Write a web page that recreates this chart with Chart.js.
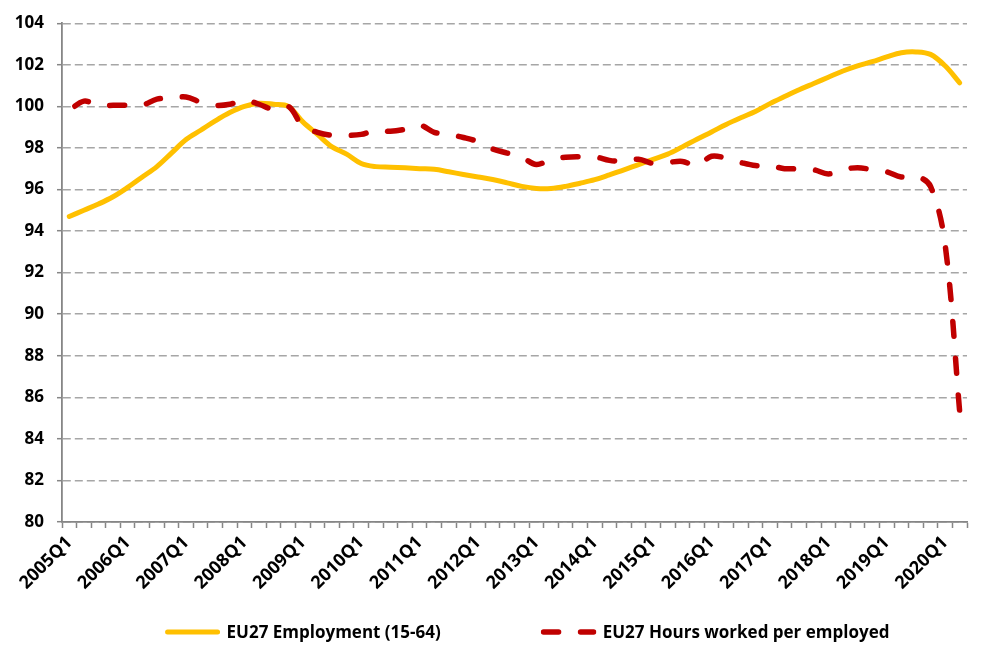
<!DOCTYPE html>
<html>
<head>
<meta charset="utf-8">
<script src="https://cdn.jsdelivr.net/npm/chart.js@4.4.1/dist/chart.umd.min.js"></script>
<style>
  body { margin: 0; background: #fff; }
  #wrap { position: relative; width: 998px; height: 659px; }
  #legend {
    position: absolute; top: 620px; left: 527px; transform: translateX(-50%);
    display: flex; align-items: center; gap: 100px; white-space: nowrap;
    font-family: 'Open Sans', sans-serif; font-weight: bold; font-size: 17px; color: #000;
  }
  #legend .item { display: flex; align-items: center; }
  #legend svg { margin-right: 6px; }
</style>
</head>
<body>
<div id="wrap">
  <canvas id="myChart" width="998" height="659"></canvas>
  <div id="legend"></div>
</div>
<script>
var quarters = [
  "2005Q1", "2005Q2", "2005Q3", "2005Q4", "2006Q1", "2006Q2", "2006Q3", "2006Q4",
  "2007Q1", "2007Q2", "2007Q3", "2007Q4", "2008Q1", "2008Q2", "2008Q3", "2008Q4",
  "2009Q1", "2009Q2", "2009Q3", "2009Q4", "2010Q1", "2010Q2", "2010Q3", "2010Q4",
  "2011Q1", "2011Q2", "2011Q3", "2011Q4", "2012Q1", "2012Q2", "2012Q3", "2012Q4",
  "2013Q1", "2013Q2", "2013Q3", "2013Q4", "2014Q1", "2014Q2", "2014Q3", "2014Q4",
  "2015Q1", "2015Q2", "2015Q3", "2015Q4", "2016Q1", "2016Q2", "2016Q3", "2016Q4",
  "2017Q1", "2017Q2", "2017Q3", "2017Q4", "2018Q1", "2018Q2", "2018Q3", "2018Q4",
  "2019Q1", "2019Q2", "2019Q3", "2019Q4", "2020Q1", "2020Q2"
];

var employment = [
  94.7, 95.0, 95.3, 95.65, 96.1, 96.6, 97.1, 97.75,
  98.4, 98.85, 99.3, 99.7, 100.0, 100.15, 100.1, 100.0,
  99.25, 98.65, 98.05, 97.7, 97.25, 97.1, 97.07, 97.04,
  97.0, 96.97, 96.85, 96.72, 96.6, 96.48, 96.32, 96.15,
  96.05, 96.05, 96.15, 96.3, 96.47, 96.7, 96.94, 97.2,
  97.45, 97.7, 98.05, 98.42, 98.77, 99.13, 99.45, 99.75,
  100.13, 100.47, 100.8, 101.1, 101.4, 101.7, 101.95, 102.15,
  102.38, 102.58, 102.62, 102.5, 101.95, 101.13
];

var hoursPerEmployed = [
  99.8, 100.25, 100.05, 100.05, 100.05, 100.05, 100.35, 100.4,
  100.45, 100.2, 100.05, 100.1, 100.3, 100.1, 99.85, 100.0,
  99.05, 98.75, 98.6, 98.6, 98.65, 98.85, 98.8, 98.9,
  99.1, 98.75, 98.65, 98.5, 98.3, 97.95, 97.75, 97.55,
  97.2, 97.45, 97.55, 97.57, 97.57, 97.4, 97.35, 97.45,
  97.25, 97.3, 97.35, 97.15, 97.6, 97.5, 97.3, 97.15,
  97.15, 97.0, 97.0, 96.95, 96.75, 96.95, 97.05, 96.95,
  96.85, 96.6, 96.65, 96.15, 93.35, 85.3
];

var seriesNames = ["EU27 Employment (15-64)", "EU27 Hours worked per employed"];

var fontFamily = "'Open Sans', sans-serif";

// legend as html, built from the datasets after each update
var htmlLegend = {
  id: "htmlLegend",
  afterUpdate(chart) {
    const box = document.getElementById("legend");
    box.innerHTML = "";
    chart.data.datasets.forEach((ds) => {
      const item = document.createElement("div");
      item.className = "item";
      const dash = ds.borderDash ? ds.borderDash.join(" ") : "none";
      item.innerHTML =
        '<svg width="56" height="10"><line x1="3" y1="5" x2="53" y2="5" stroke="' +
        ds.borderColor + '" stroke-width="' + ds.borderWidth +
        '" stroke-linecap="round" stroke-dasharray="' + dash + '"/></svg>';
      const txt = document.createElement("span");
      txt.textContent = ds.label;
      item.appendChild(txt);
      box.appendChild(item);
    });
  },
};

createChart = () => {
  const ctx = document.getElementById("myChart").getContext("2d");
  new Chart(ctx, {
    type: "line",
    data: {
      labels: quarters,
      datasets: [
        {
          label: seriesNames[0],
          data: employment,
          borderColor: "#FFC000",
          backgroundColor: "#FFC000",
          borderWidth: 5,
          borderCapStyle: "round",
          borderJoinStyle: "round",
          tension: 0.35,
          pointRadius: 0,
          order: 2,
        },
        {
          label: seriesNames[1],
          data: hoursPerEmployed,
          borderColor: "#C00000",
          backgroundColor: "#C00000",
          borderWidth: 5.5,
          borderDash: [15, 22],
          borderDashOffset: 30,
          borderCapStyle: "round",
          borderJoinStyle: "round",
          tension: 0.35,
          pointRadius: 0,
          order: 1,
        },
      ],
    },
    plugins: [htmlLegend],
    options: {
      responsive: false,
      animation: false,
      devicePixelRatio: 1,
      layout: { padding: { left: 0, right: 31, top: 22, bottom: 37 } },
      plugins: {
        tooltip: { enabled: false },
        legend: { display: false },
      },
      scales: {
        x: {
          offset: true,
          afterFit: (scale) => {
            scale.height = 100;
          },
          grid: {
            offset: true,
            drawOnChartArea: false,
            drawTicks: true,
            tickLength: 6,
            tickColor: "#868686",
            tickWidth: 1.5,
          },
          border: { color: "#868686", width: 1.8 },
          ticks: {
            autoSkip: false,
            minRotation: 45,
            maxRotation: 45,
            padding: 4,
            color: "#000",
            font: { family: fontFamily, size: 18, weight: "bold" },
            callback: function (value, index) {
              return index % 4 === 0 ? quarters[index] : "";
            },
          },
        },
        y: {
          min: 80,
          max: 104,
          afterFit: (scale) => {
            scale.width = 62;
          },
          grid: {
            color: "#A6A6A6",
            lineWidth: 1.4,
            tickLength: 5,
            tickColor: "#868686",
            tickWidth: 1.5,
            tickBorderDash: [],
          },
          border: { color: "#868686", width: 1.8, dash: [8, 4] },
          ticks: {
            stepSize: 2,
            padding: 13,
            color: "#000",
            font: { family: fontFamily, size: 17, weight: "bold" },
          },
        },
      },
    },
  });
};

createChart();
</script>
</body>
</html>
